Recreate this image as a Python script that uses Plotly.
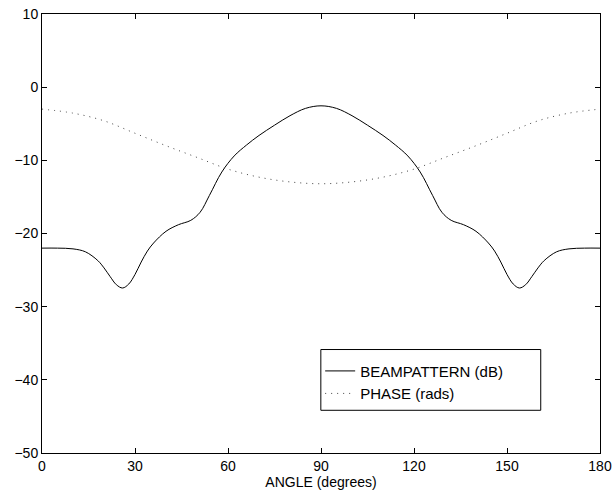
import plotly.graph_objects as go

# Beampattern (dB) vs angle
beam_angle = [0, 5, 10, 14, 18, 20, 22, 24, 26, 28, 30, 32, 34, 36, 40, 44, 48, 51, 54, 58, 62, 66, 70, 75, 80, 85, 90,
              95, 100, 105, 110, 114, 118, 122, 126, 129, 132, 136, 140, 144, 146, 148, 150, 152, 154, 156, 158, 160, 162, 166, 170, 175, 180]
beam_db = [-22.0, -22.0, -22.1, -22.5, -23.7, -24.7, -25.9, -27.0, -27.45, -26.9, -25.6, -23.9, -22.4, -21.3, -19.7, -18.8, -18.2, -17.1, -14.8, -11.6, -9.4, -7.9, -6.6, -5.2, -3.9, -2.9, -2.55,
           -2.9, -3.9, -5.2, -6.6, -7.9, -9.4, -11.6, -14.8, -17.1, -18.2, -18.8, -19.7, -21.3, -22.4, -23.9, -25.6, -26.9, -27.45, -27.0, -25.9, -24.7, -23.7, -22.5, -22.1, -22.0, -22.0]

# Phase (rads) vs angle
phase_angle = [0, 10, 20, 30, 40, 50, 60, 70, 80, 90, 100, 110, 120, 130, 140, 150, 160, 170, 180]
phase_val = [-3.0, -3.55, -4.6, -6.3, -8.0, -9.6, -11.2, -12.3, -12.95, -13.2,
             -12.95, -12.3, -11.2, -9.6, -8.0, -6.3, -4.6, -3.55, -3.0]

x_ticks = [0, 30, 60, 90, 120, 150, 180]
y_ticks = [-50, -40, -30, -20, -10, 0, 10]

fig = go.Figure()
fig.add_trace(go.Scatter(x=beam_angle, y=beam_db, mode="lines", name="BEAMPATTERN (dB)",
                         line=dict(color="black", width=1, shape="spline", smoothing=1.0)))
fig.add_trace(go.Scatter(x=phase_angle, y=phase_val, mode="lines", name="PHASE (rads)",
                         line=dict(color="#444444", width=1, dash="1px,5px", shape="spline")))

font = dict(family="Liberation Sans, Arial, Helvetica, sans-serif", size=14, color="black")
lfont = dict(family="Liberation Sans, Arial, Helvetica, sans-serif", size=15, color="black")

fig.update_layout(
    width=613, height=495,
    margin=dict(l=42, r=13, t=14, b=42),
    paper_bgcolor="white", plot_bgcolor="white",
    font=font,
    showlegend=True,
    legend=dict(x=0.4985, y=0.224, xanchor="left", yanchor="top",
                bgcolor="rgba(0,0,0,0)", borderwidth=0, font=lfont,
                tracegroupgap=0, itemwidth=30),
    xaxis=dict(range=[0, 180], tickvals=x_ticks, ticks="inside", ticklen=5, tickcolor="black",
               showline=True, linecolor="black", linewidth=1, mirror="allticks",
               showgrid=False, zeroline=False, automargin=False,
               title=dict(text="ANGLE (degrees)", font=font, standoff=4)),
    yaxis=dict(range=[-50, 10], tickvals=y_ticks, ticks="inside", ticklen=5, tickcolor="black",
               showline=True, linecolor="black", linewidth=1, mirror="allticks",
               showgrid=False, zeroline=False, automargin=False),
    shapes=[dict(type="rect", xref="paper", yref="paper", x0=0.4997, x1=0.8938, y0=0.0973, y1=0.2357,
                 line=dict(color="black", width=1), fillcolor="rgba(0,0,0,0)")],
)

fig.write_html("out.html", config={"displayModeBar": False},
               post_script="document.body.style.margin='0';document.body.style.overflow='hidden';")
